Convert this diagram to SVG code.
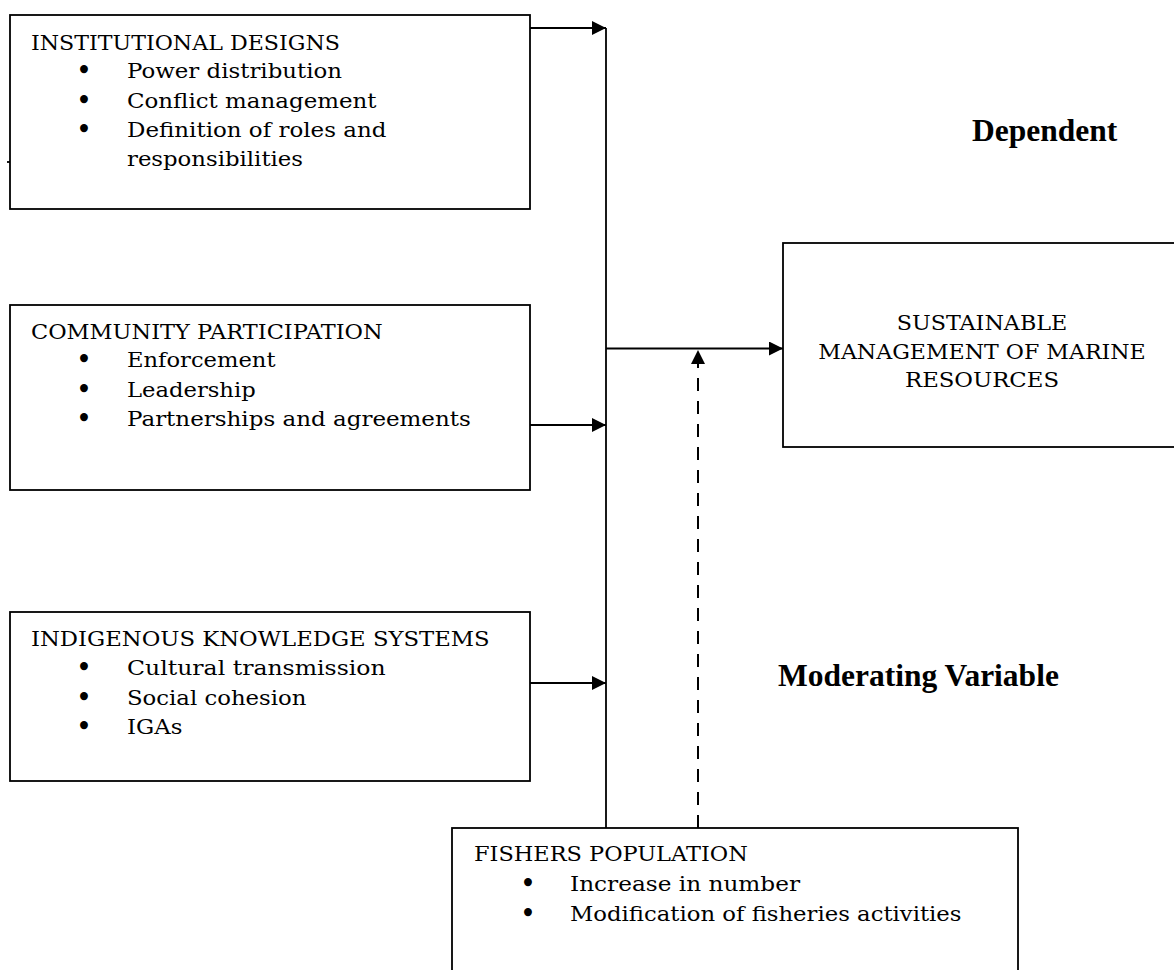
<svg xmlns="http://www.w3.org/2000/svg" width="1174" height="970" viewBox="0 0 1174 970">
<style>
.box{fill:#fff;stroke:#000;stroke-width:1.8}
.t{font-family:"DejaVu Serif","Liberation Serif",serif;font-size:19.5px;fill:#000}
.b{font-family:"DejaVu Serif","Liberation Serif",serif;font-size:27px;fill:#000;text-anchor:middle}
.c{text-anchor:middle}
.lbl{font-family:"Liberation Serif","Times New Roman",serif;font-weight:bold;font-size:31.5px;fill:#000}
.ln{stroke:#000;stroke-width:1.8;fill:none}
.dash{stroke:#000;stroke-width:2;fill:none;stroke-dasharray:13 10}
</style>
<defs>
<marker id="ah" markerUnits="userSpaceOnUse" markerWidth="15" markerHeight="14" refX="14" refY="7" orient="auto">
<path d="M0,0 L14,7 L0,14 Z" fill="#000"/>
</marker>
</defs>
<rect width="1174" height="970" fill="#fff"/>

<g id="connectors">
<line class="ln" x1="606" y1="28" x2="606" y2="828"/>
<line class="ln" x1="530" y1="28" x2="606" y2="28" marker-end="url(#ah)"/>
<line class="ln" x1="530" y1="425" x2="606" y2="425" marker-end="url(#ah)"/>
<line class="ln" x1="530" y1="683" x2="606" y2="683" marker-end="url(#ah)"/>
<line class="ln" x1="606" y1="348.5" x2="783" y2="348.5" marker-end="url(#ah)"/>
<line class="dash" x1="698" y1="828" x2="698" y2="364"/>
<path d="M691,364 L698,350 L705,364 Z" fill="#000"/>
<line class="ln" x1="7" y1="162" x2="10" y2="162" stroke-width="1"/>
</g>

<g id="institutional-designs">
<rect class="box" x="10" y="15" width="520" height="194"/>
<text class="t" x="31" y="50" textLength="309" lengthAdjust="spacingAndGlyphs">INSTITUTIONAL DESIGNS</text>
<text class="b" x="84" y="80">•</text>
<text class="t" x="127" y="78" textLength="215" lengthAdjust="spacingAndGlyphs">Power distribution</text>
<text class="b" x="84" y="110.3">•</text>
<text class="t" x="127" y="108.3" textLength="249.5" lengthAdjust="spacingAndGlyphs">Conflict management</text>
<text class="b" x="84" y="139.3">•</text>
<text class="t" x="127" y="137.3" textLength="259.4" lengthAdjust="spacingAndGlyphs">Definition of roles and</text>
<text class="t" x="127" y="166" textLength="176" lengthAdjust="spacingAndGlyphs">responsibilities</text>
</g>

<g id="community-participation">
<rect class="box" x="10" y="305" width="520" height="185"/>
<text class="t" x="31" y="338.5" textLength="351.7" lengthAdjust="spacingAndGlyphs">COMMUNITY PARTICIPATION</text>
<text class="b" x="84" y="369">•</text>
<text class="t" x="127" y="367" textLength="148.5" lengthAdjust="spacingAndGlyphs">Enforcement</text>
<text class="b" x="84" y="399">•</text>
<text class="t" x="127" y="397" textLength="128.7" lengthAdjust="spacingAndGlyphs">Leadership</text>
<text class="b" x="84" y="428">•</text>
<text class="t" x="127" y="426" textLength="343.8" lengthAdjust="spacingAndGlyphs">Partnerships and agreements</text>
</g>

<g id="indigenous-knowledge">
<rect class="box" x="10" y="612" width="520" height="169"/>
<text class="t" x="31" y="646" textLength="458.6" lengthAdjust="spacingAndGlyphs">INDIGENOUS KNOWLEDGE SYSTEMS</text>
<text class="b" x="84" y="677">•</text>
<text class="t" x="127" y="675" textLength="258.6" lengthAdjust="spacingAndGlyphs">Cultural transmission</text>
<text class="b" x="84" y="707">•</text>
<text class="t" x="127" y="705" textLength="179.4" lengthAdjust="spacingAndGlyphs">Social cohesion</text>
<text class="b" x="84" y="736">•</text>
<text class="t" x="127" y="734" textLength="55.4" lengthAdjust="spacingAndGlyphs">IGAs</text>
</g>

<g id="sustainable-management">
<rect class="box" x="783" y="243" width="420" height="204"/>
<text class="t c" x="982" y="330" textLength="170.6" lengthAdjust="spacingAndGlyphs">SUSTAINABLE</text>
<text class="t c" x="982" y="358.6" textLength="327.5" lengthAdjust="spacingAndGlyphs">MANAGEMENT OF MARINE</text>
<text class="t c" x="982" y="386.5" textLength="154" lengthAdjust="spacingAndGlyphs">RESOURCES</text>
</g>

<g id="fishers-population">
<rect class="box" x="452" y="828" width="566" height="160"/>
<text class="t" x="474" y="861" textLength="273.8" lengthAdjust="spacingAndGlyphs">FISHERS POPULATION</text>
<text class="b" x="528" y="893.3">•</text>
<text class="t" x="570" y="891.3" textLength="230" lengthAdjust="spacingAndGlyphs">Increase in number</text>
<text class="b" x="528" y="923.3">•</text>
<text class="t" x="570" y="921.3" textLength="391.5" lengthAdjust="spacingAndGlyphs">Modification of fisheries activities</text>
</g>

<g id="label-dependent">
<text class="lbl" x="972" y="141">Dependent</text>
</g>
<g id="label-moderating">
<text class="lbl" x="778" y="686">Moderating Variable</text>
</g>
</svg>
